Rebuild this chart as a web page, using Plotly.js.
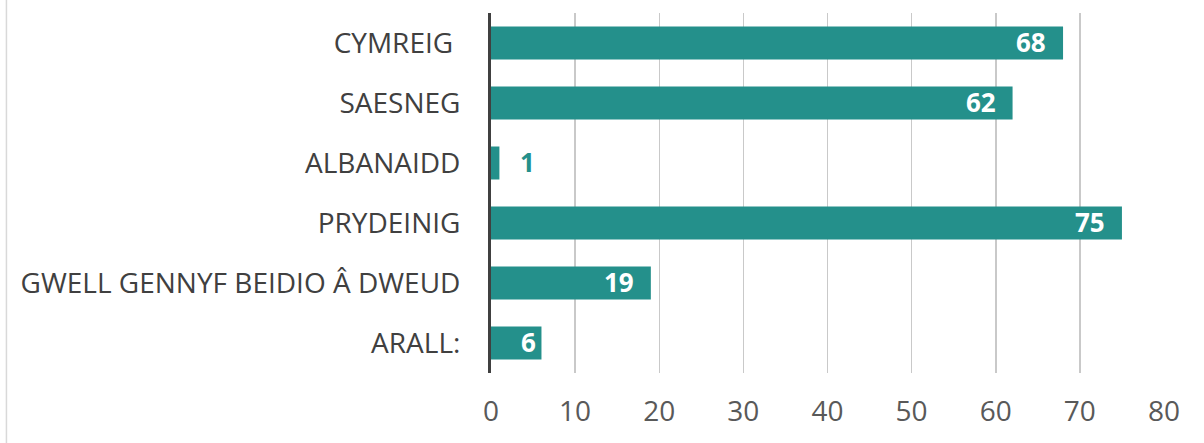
<!DOCTYPE html>
<html>
<head>
<meta charset="utf-8">
<script src="https://cdn.plot.ly/plotly-3.0.1.min.js"></script>
<style>html,body{margin:0;padding:0;background:#fff;}#chart{width:1204px;height:443px;}</style>
</head>
<body>
<div id="chart"></div>
<script>
const categories = ["CYMREIG ", "SAESNEG", "ALBANAIDD", "PRYDEINIG", "GWELL GENNYF BEIDIO Â DWEUD", "ARALL:"];
const values = [68, 62, 1, 75, 19, 6];
const xTicks = [0, 10, 20, 30, 40, 50, 60, 70, 80];

const teal = "#24908B";

const trace = {
  type: "bar",
  orientation: "h",
  y: categories,
  x: values,
  marker: {color: teal},
  width: 0.55,
  hoverinfo: "skip"
};

const annotations = values.map((v, i) => {
  const outside = v < 3;
  return {
    x: v, y: categories[i], xref: "x", yref: "y",
    text: String(v),
    showarrow: false,
    xanchor: outside ? "left" : "right",
    yanchor: "middle",
    xshift: outside ? 19 : (v < 10 ? -3 : -15),
    yshift: 1,
    font: {family: "Open Sans, sans-serif", size: 26, weight: 700, color: outside ? teal : "#ffffff"}
  };
});

const layout = {
  width: 1204,
  height: 443,
  margin: {l: 491, r: 40, t: 13, b: 70},
  paper_bgcolor: "#ffffff",
  plot_bgcolor: "#ffffff",
  showlegend: false,
  font: {family: "Open Sans, sans-serif", color: "#595959"},
  xaxis: {
    range: [0, 80],
    tickvals: xTicks,
    ticktext: xTicks.map(String),
    showgrid: true,
    gridcolor: "#c9c9c9",
    gridwidth: 1.5,
    zeroline: false,
    showline: false,
    ticks: "",
    ticklabelstandoff: 19,
    tickfont: {size: 28, color: "#595959"},
    fixedrange: true
  },
  yaxis: {
    categoryorder: "array",
    categoryarray: categories,
    autorange: "reversed",
    showgrid: false,
    zeroline: false,
    showline: true,
    linecolor: "#404040",
    linewidth: 3,
    ticks: "",
    ticklabelstandoff: 22,
    tickfont: {size: 28, color: "#404040"},
    fixedrange: true
  },
  annotations: annotations,
  shapes: [{
    type: "line",
    xref: "paper", yref: "paper",
    x0: -0.72, x1: -0.72, y0: -0.2, y1: 1.04,
    line: {color: "#d9d9d9", width: 1.5}
  }]
};

Plotly.newPlot("chart", [trace], layout, {displayModeBar: false, staticPlot: true});
</script>
</body>
</html>
